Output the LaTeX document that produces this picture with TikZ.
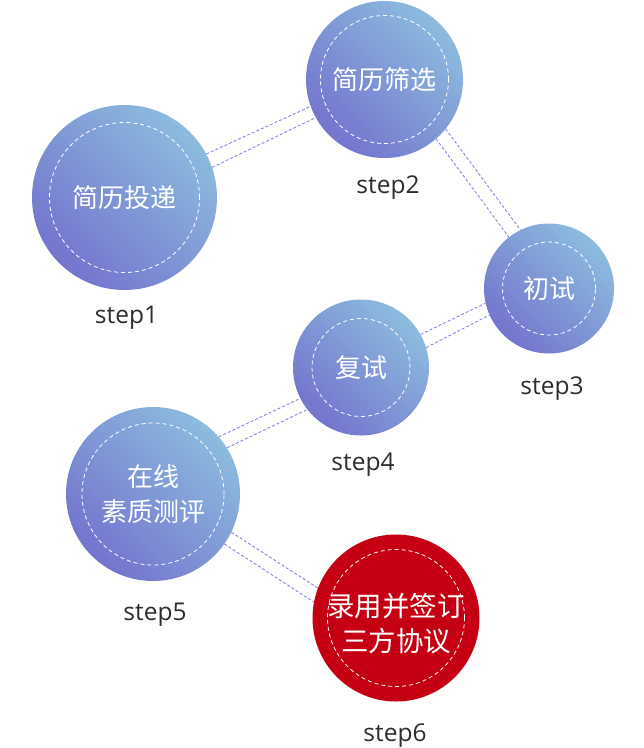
\documentclass[tikz,border=0pt]{standalone}
\usepackage{fontspec}
\setmainfont{Open Sans}
\newfontfamily\cjkfont{Noto Sans CJK SC}
\definecolor{gradA}{RGB}{116,116,206}
\definecolor{gradB}{RGB}{140,188,222}
\definecolor{linkc}{RGB}{128,134,226}
\definecolor{redc}{RGB}{197,0,18}
\definecolor{labelc}{RGB}{45,45,45}
\begin{document}
\begin{tikzpicture}[x=1pt,y=-1pt,
  bubble/.style={circle, inner sep=0pt, shading=axis, bottom color=gradA, top color=gradB, shading angle=-45},
  redbubble/.style={circle, inner sep=0pt, fill=redc},
  cjktext/.style={text=white, inner sep=0pt, align=center, font=\cjkfont\fontsize{26}{35}\selectfont},
  ringline/.style={draw=white, dash pattern=on 4pt off 3pt, line width=0.8pt},
  linkline/.style={draw=linkc, dash pattern=on 3pt off 2pt, line width=0.9pt},
  steplabel/.style={anchor=base, text=labelc, inner sep=0pt, font=\fontsize{24.5}{28}\selectfont}]
\useasboundingbox (0,0) rectangle (644,748);

% circles
\node[bubble, minimum size=185pt] (s1) at (124.5,197.5) {};
\node[bubble, minimum size=157pt] (s2) at (384.5,79.5) {};
\node[bubble, minimum size=130pt] (s3) at (549,288.5) {};
\node[bubble, minimum size=136pt] (s4) at (361,367.5) {};
\node[bubble, minimum size=174pt] (s5) at (153,494) {};
\node[redbubble, minimum size=167pt] (s6) at (396,618) {};

% inner dashed rings
\draw[ringline] (s1.center) circle[radius=75pt];
\draw[ringline] (s2.center) circle[radius=64pt];
\draw[ringline] (s3.center) circle[radius=46.5pt];
\draw[ringline] (s4.center) circle[radius=49pt];
\draw[ringline] (s5.center) circle[radius=71pt];
\draw[ringline] (s6.center) circle[radius=68.5pt];

% texts
\node[cjktext] (t1) at (s1.center) {简历投递};
\node[cjktext] (t2) at (s2.center) {简历筛选};
\node[cjktext] (t3) at (s3.center) {初试};
\node[cjktext] (t4) at (s4.center) {复试};
\node[cjktext] (t5) at (s5.center) {在线\\素质测评};
\node[cjktext, font=\cjkfont\fontsize{27.5}{35}\selectfont] (t6) at ([yshift=-6pt]s6.center) {录用并签订\\三方协议};

% connectors
\draw[linkline] (s1.28) -- (s2.200);
\draw[linkline] (s1.19) -- (s2.209);
\draw[linkline] (s2.311) -- (s3.128);
\draw[linkline] (s2.321) -- (s3.116);
\draw[linkline] (s4.29) -- (s3.193);
\draw[linkline] (s4.17) -- (s3.204);
\draw[linkline] (s5.41) -- (s4.207);
\draw[linkline] (s5.32) -- (s4.218);
\draw[linkline] (s5.334) -- (s6.159);
\draw[linkline] (s5.325) -- (s6.169);

% step labels
\node[steplabel] (l1) at (126.5,323) {step1};
\node[steplabel] (l2) at (388,193) {step2};
\node[steplabel] (l3) at (552,394) {step3};
\node[steplabel] (l4) at (363,470) {step4};
\node[steplabel] (l5) at (155,620) {step5};
\node[steplabel] (l6) at (395,741) {step6};
\end{tikzpicture}
\end{document}
